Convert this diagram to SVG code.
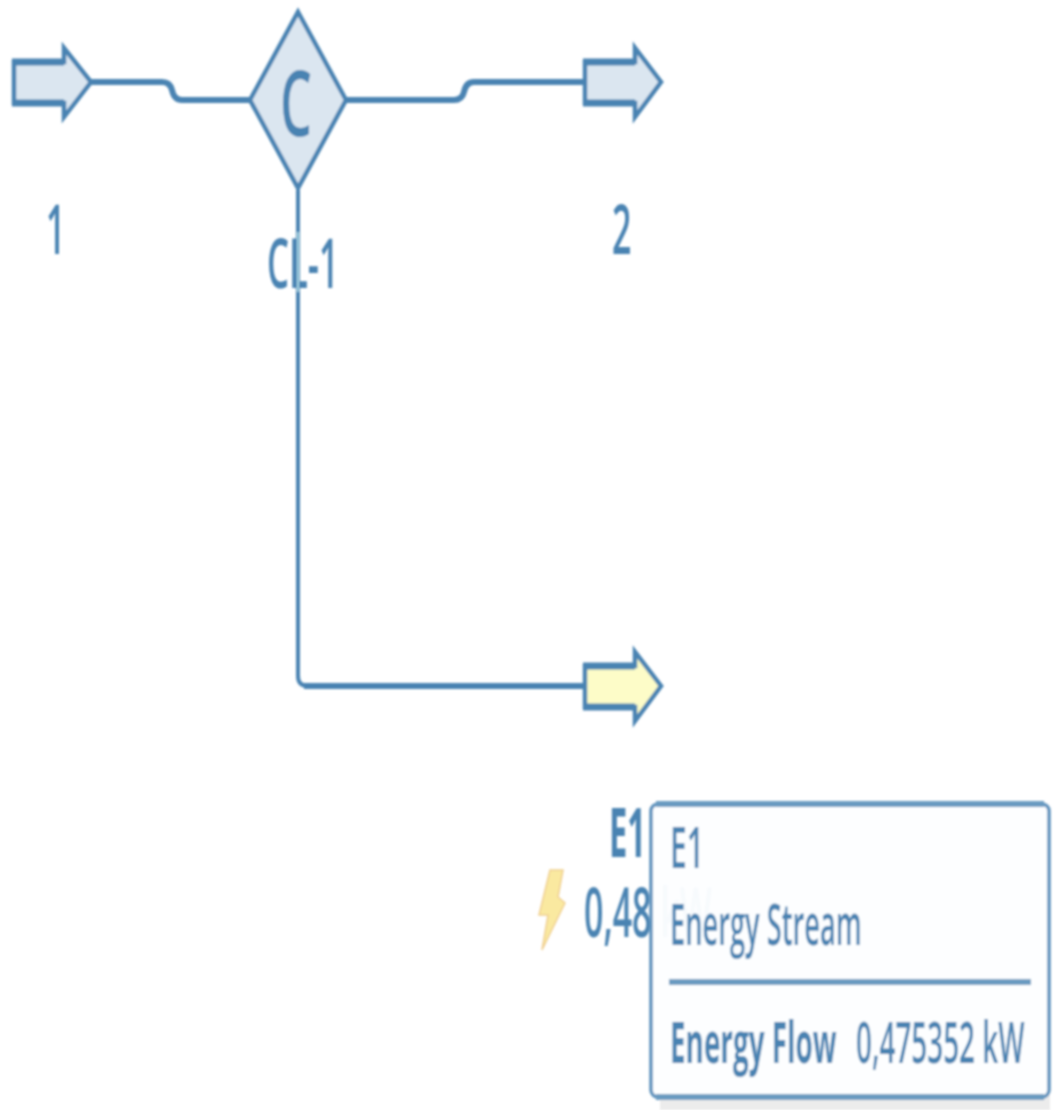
<svg xmlns="http://www.w3.org/2000/svg" width="1054" height="1110" viewBox="0 0 1054 1110">
<defs>
<filter id="soft" x="-10%" y="-10%" width="120%" height="120%"><feGaussianBlur stdDeviation="0.9"/></filter>
</defs>
<style>
.s{stroke:#4a83b2;stroke-width:4.5;stroke-linejoin:miter}
.w{fill:none;stroke:#4a83b2;stroke-width:6}
.t{fill:none;stroke:#4a83b2;stroke-width:7}
.e{fill:none;stroke:#6b9bc1;stroke-width:6}
.b{fill:#dbe6f0}
.y{fill:#fdfcc8}
text{font-family:"Open Sans","Liberation Sans",sans-serif;fill:#4a83b2;font-weight:600}
.h{font-weight:700}
</style>
<rect width="1054" height="1110" fill="#ffffff"/>
<g filter="url(#soft)">
<g id="connectors">
<path class="w" d="M91 82H162Q170 82 172 90Q174 100 182 100H249"/>
<path class="w" d="M347 100H454Q462 100 464 92Q466 82 474 82H583"/>
<path class="w" style="stroke-width:4" d="M298 190V676Q298 686 308 686"/>
<path class="w" d="M304 686H583"/>
</g>
<g id="stream-1">
<path class="s b" d="M14 62H64V48L91 82L64 117V103H14Z"/>
<path class="t" d="M12 62H64M12 103H64"/>
<text transform="translate(46 254) scale(0.5 1)" font-size="68">1</text>
</g>
<g id="CL-1">
<path class="s b" d="M298 12L346 100L298 188L250 100Z"/>
<text transform="translate(280 136) scale(0.56 1)" font-size="90">C</text>
<text transform="translate(267 288) scale(0.51 1)" font-size="68">CL-1</text>
<path d="M298 232V292" stroke="#c4f0f4" stroke-width="1.5" fill="none"/>
</g>
<g id="stream-2">
<path class="s b" d="M585 62H635V48L661 82L635 117V103H585Z"/>
<path class="t" d="M583 62H635M583 103H635"/>
<text transform="translate(612 254) scale(0.5 1)" font-size="68">2</text>
</g>
<g id="E1">
<path class="s y" d="M585 666H635V652L661 686L635 721V707H585Z"/>
<path class="t" d="M583 666H635M583 707H635"/>
<text class="h" transform="translate(609 857) scale(0.48 1)" font-size="68">E1</text>
<path d="M550 870H563L558 897L565 903L542 950L548 915H539Z" fill="#fae9a0" stroke="#f0cf90" stroke-width="1.5"/>
<text transform="translate(584 937) scale(0.5 1)" font-size="68">0,48 kW</text>
</g>
<g id="tooltip">
<rect x="660" y="1090" width="390" height="20" fill="#ececec"/>
<rect x="651" y="804" width="398" height="293" rx="7" fill="#fdfeff" fill-opacity="0.97" stroke="#5f93bd" stroke-width="3.5"/>
<path class="e" d="M656 804H1044M656 1097H1044"/>
<text transform="translate(670 868) scale(0.52 1)" font-size="58">E1</text>
<text transform="translate(670 945) scale(0.47 1)" font-size="58">Energy Stream</text>
<path class="e" d="M669 982H1031"/>
<text class="h" transform="translate(670 1063) scale(0.48 1)" font-size="58">Energy Flow</text>
<text transform="translate(856 1063) scale(0.48 1)" font-size="58">0,475352 kW</text>
</g>
</g>
</svg>
